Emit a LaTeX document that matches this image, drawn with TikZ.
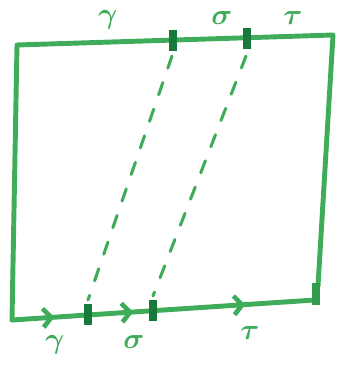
\documentclass[tikz,border=0pt]{standalone}
\usepackage{amsmath}
\usepackage{xcolor}
\usetikzlibrary{calc,arrows.meta,decorations.markings}

\definecolor{pen}{RGB}{62,172,88}
\definecolor{darkpen}{RGB}{24,122,58}

\begin{document}
\begin{tikzpicture}[x=0.03cm,y=-0.03cm,
    edge/.style={pen, line width=4.2pt, line cap=round, line join=round},
    tickmark/.style={darkpen, line width=6pt},
    guide/.style={pen, line width=2.6pt, line cap=round, dash pattern=on 11pt off 13pt},
    lab/.style={pen, font=\Huge\boldmath, inner sep=1pt}]
        % 0. Frame of the picture
        \useasboundingbox (0,0) rectangle (337,369);

        % 1. Corners of the square
        \coordinate (tl) at (17,45);
        \coordinate (tr) at (333,35);
        \coordinate (br) at (318,286);
        \coordinate (bl) at (12,320);
        \coordinate (be) at (315,300);

        % 2. Cut points (top and bottom)
        \coordinate (topA) at (173,40);
        \coordinate (topB) at (247,38);
        \coordinate (botA) at (88,314);
        \coordinate (botB) at (153,310);

        % 3. Edges of the square
        \draw[edge] (bl) -- (tl) -- (tr) -- (br);
        \draw[edge, postaction={decorate}, decoration={markings,
                mark=at position 0.14 with {\arrow{Straight Barb[length=7pt,width=16pt,line width=4pt]}},
                mark=at position 0.40 with {\arrow{Straight Barb[length=7pt,width=16pt,line width=4pt]}},
                mark=at position 0.77 with {\arrow{Straight Barb[length=7pt,width=16pt,line width=4pt]}}}]
            (bl) -- (be);

        % 4. Dashed lines from top to bottom
        \draw[guide] ($(topA)+(-1,16)$) -- ($(botA)+(0,-14)$);
        \draw[guide] ($(topB)+(-1,18)$) -- ($(botB)+(0,-14)$);

        % 5. Tick marks
        \foreach \c in {topA,topB,botA,botB}{
            \draw[tickmark] ($(\c)+(0,-10)$) -- ($(\c)+(0,11)$);
        }
        \draw[tickmark, pen!70!darkpen] (316,283) -- (316,305);

        % 6. Labels
        \node[lab] (gtop) at (108,20) {$\gamma$};
        \node[lab] (stop) at (222,18) {$\sigma$};
        \node[lab] (ttop) at (293,18) {$\tau$};
        \node[lab] (gbot) at (55,345) {$\gamma$};
        \node[lab] (sbot) at (134,342) {$\sigma$};
        \node[lab] (tbot) at (250,333) {$\tau$};
    \end{tikzpicture}
\end{document}
